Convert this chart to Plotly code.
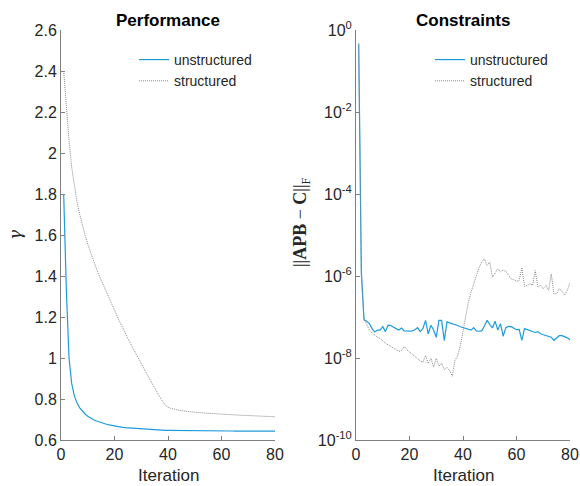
import plotly.graph_objects as go

iterations = list(range(1, 81))

gamma_unstructured = [
    1.80, 1.33, 1.00, 0.875, 0.815, 0.78, 0.757, 0.74, 0.727, 0.716,
    0.707, 0.700, 0.694, 0.689, 0.684, 0.680, 0.677, 0.674, 0.671, 0.668,
    0.666, 0.664, 0.662, 0.660, 0.659, 0.657, 0.656, 0.655, 0.654, 0.653,
    0.652, 0.651, 0.650, 0.650, 0.649, 0.649, 0.648, 0.648, 0.647, 0.647,
    0.647, 0.646, 0.646, 0.646, 0.646, 0.646, 0.645, 0.645, 0.645, 0.645,
    0.645, 0.645, 0.645, 0.644, 0.644, 0.644, 0.644, 0.644, 0.644, 0.644,
    0.644, 0.644, 0.644, 0.644, 0.643, 0.643, 0.643, 0.643, 0.643, 0.643,
    0.643, 0.643, 0.643, 0.643, 0.643, 0.643, 0.643, 0.643, 0.643, 0.643,
]

gamma_structured = [
    2.40, 2.21, 2.06, 1.93, 1.84, 1.76, 1.70, 1.645, 1.60, 1.555,
    1.515, 1.48, 1.445, 1.41, 1.38, 1.35, 1.32, 1.29, 1.26, 1.23,
    1.20, 1.175, 1.15, 1.12, 1.095, 1.07, 1.045, 1.02, 0.995, 0.97,
    0.947, 0.924, 0.90, 0.877, 0.854, 0.83, 0.808, 0.787, 0.77, 0.76,
    0.755, 0.751, 0.748, 0.745, 0.743, 0.741, 0.739, 0.737, 0.736, 0.735,
    0.734, 0.733, 0.732, 0.731, 0.730, 0.729, 0.728, 0.727, 0.727, 0.726,
    0.725, 0.724, 0.724, 0.723, 0.722, 0.722, 0.721, 0.720, 0.720, 0.719,
    0.719, 0.718, 0.717, 0.717, 0.716, 0.716, 0.715, 0.715, 0.714, 0.714,
]

constraint_unstructured = [
    4.7e-1, 1.26e-6, 8.5e-8, 7.9e-8, 6.9e-8, 5.2e-8, 4.3e-8, 4.8e-8, 4.8e-8, 5.8e-8,
    4.4e-8, 6.3e-8, 6.2e-8, 5.8e-8, 5.2e-8, 4.8e-8, 5.4e-8, 4.6e-8, 4.5e-8, 4.5e-8,
    4.6e-8, 4.9e-8, 5.5e-8, 4.4e-8, 5.2e-8, 8.3e-8, 3.9e-8, 6.3e-8, 4.8e-8, 3.2e-8,
    8.3e-8, 8.3e-8, 2.7e-8, 7.6e-8, 7.2e-8, 6.9e-8, 6.5e-8, 6.2e-8, 5.8e-8, 5.5e-8,
    5.4e-8, 5.1e-8, 4.8e-8, 5.5e-8, 4.6e-8, 4.5e-8, 4.6e-8, 6.0e-8, 8.3e-8, 6.6e-8,
    5.4e-8, 7.9e-8, 4.8e-8, 6.9e-8, 3.4e-8, 5.5e-8, 5.9e-8, 5.8e-8, 5.4e-8, 4.9e-8,
    5.0e-8, 2.7e-8, 5.2e-8, 4.9e-8, 4.6e-8, 4.4e-8, 4.2e-8, 4.4e-8, 3.9e-8, 3.7e-8,
    3.5e-8, 3.4e-8, 3.2e-8, 2.7e-8, 3.0e-8, 3.5e-8, 3.5e-8, 3.3e-8, 3.1e-8, 2.8e-8,
]

constraint_structured = [
    4.5e-1, 1.0e-6, 8.9e-8, 6.3e-8, 4.8e-8, 4.1e-8, 3.6e-8, 3.2e-8, 3.0e-8, 2.6e-8,
    2.3e-8, 2.1e-8, 1.9e-8, 1.7e-8, 1.6e-8, 1.45e-8, 1.5e-8, 1.9e-8, 1.6e-8, 1.4e-8,
    1.23e-8, 1.1e-8, 9.8e-9, 8.5e-9, 7.9e-9, 1.15e-8, 7.4e-9, 9.8e-9, 6.0e-9, 9.8e-9,
    6.3e-9, 7.4e-9, 5.2e-9, 5.9e-9, 5.0e-9, 3.6e-9, 8.9e-9, 1.12e-8, 2.0e-8, 4.8e-8,
    9.1e-8, 2.3e-7, 4.0e-7, 6.5e-7, 1.02e-6, 1.6e-6, 2.2e-6, 2.6e-6, 1.8e-6, 2.2e-6,
    9.3e-7, 1.17e-6, 1.5e-6, 1.26e-6, 1.4e-6, 1.3e-6, 1.02e-6, 8.5e-7, 8.1e-7, 7.4e-7,
    7.8e-7, 1.6e-6, 5.6e-7, 5.9e-7, 6.5e-7, 5.9e-7, 1.35e-6, 5.4e-7, 5.9e-7, 4.9e-7,
    5.9e-7, 4.5e-7, 1.12e-6, 3.7e-7, 3.7e-7, 4.9e-7, 4.3e-7, 3.4e-7, 4.5e-7, 6.8e-7,
]

x_ticks = [0, 20, 40, 60, 80]
gamma_ticks = [0.6, 0.8, 1.0, 1.2, 1.4, 1.6, 1.8, 2.0, 2.2, 2.4, 2.6]
gamma_ticktext = ["0.6", "0.8", "1", "1.2", "1.4", "1.6", "1.8", "2", "2.2", "2.4", "2.6"]
log_ticks = [1e-10, 1e-8, 1e-6, 1e-4, 1e-2, 1e0]
log_ticktext = ["10<sup>-10</sup>", "10<sup>-8</sup>", "10<sup>-6</sup>",
                "10<sup>-4</sup>", "10<sup>-2</sup>", "10<sup>0</sup>"]

BLUE = "#1e9bdc"
GREY = "#8a8a8a"
AXIS = "#808080"
TEXT = "#262626"
FONT = "Liberation Sans, Arial, sans-serif"
W, H = 580, 486

fig = go.Figure()
fig.add_trace(go.Scatter(x=iterations, y=gamma_unstructured, mode="lines", name="unstructured",
                         line=dict(color=BLUE, width=1.2), xaxis="x", yaxis="y", legend="legend"))
fig.add_trace(go.Scatter(x=iterations, y=gamma_structured, mode="lines", name="structured",
                         line=dict(color=GREY, width=1, dash="1px,1px"), xaxis="x", yaxis="y",
                         legend="legend"))
fig.add_trace(go.Scatter(x=iterations, y=constraint_unstructured, mode="lines", name="unstructured",
                         line=dict(color=BLUE, width=1.2), xaxis="x2", yaxis="y2", legend="legend2"))
fig.add_trace(go.Scatter(x=iterations, y=constraint_structured, mode="lines", name="structured",
                         line=dict(color=GREY, width=1, dash="1px,1px"), xaxis="x2", yaxis="y2",
                         legend="legend2"))

ax_common = dict(showline=True, linecolor=AXIS, linewidth=1, mirror=False, ticks="inside",
                 tickcolor=AXIS, ticklen=4, showgrid=False, zeroline=False, automargin=False,
                 tickfont=dict(family=FONT, size=16, color=TEXT))

legend_common = dict(xanchor="left", yanchor="top", bgcolor="rgba(0,0,0,0)", borderwidth=0,
                     font=dict(family=FONT, size=14, color=TEXT), tracegroupgap=0, itemwidth=30)


def px_x(p):
    return p / W


def px_y(p):
    return 1 - p / H


def label(text, x, y, size, color=TEXT, family=FONT, angle=0):
    return dict(text=text, x=px_x(x), y=px_y(y), xref="paper", yref="paper",
                xanchor="center", yanchor="middle", showarrow=False, textangle=angle,
                font=dict(family=family, size=size, color=color))


ydom = [px_y(440), px_y(30)]

fig.update_layout(
    width=W, height=H,
    margin=dict(l=0, r=0, t=0, b=0),
    paper_bgcolor="white", plot_bgcolor="white",
    xaxis=dict(domain=[px_x(61), px_x(275)], range=[0, 80], tickvals=x_ticks, anchor="y", **ax_common),
    yaxis=dict(domain=ydom, range=[0.6, 2.6], tickvals=gamma_ticks, ticktext=gamma_ticktext,
               anchor="x", **ax_common),
    xaxis2=dict(domain=[px_x(356), px_x(570)], range=[0, 80], tickvals=x_ticks, anchor="y2", **ax_common),
    yaxis2=dict(domain=ydom, type="log", range=[-10, 0], tickvals=log_ticks, ticktext=log_ticktext,
                anchor="x2", **ax_common),
    legend=dict(x=px_x(134), y=px_y(44), **legend_common),
    legend2=dict(x=px_x(430), y=px_y(44), **legend_common),
    showlegend=True,
    annotations=[
        label("<b>Performance</b>", 168, 20, 17, color="black"),
        label("<b>Constraints</b>", 463, 20, 17, color="black"),
        label("Iteration", 168, 475, 17),
        label("Iteration", 463, 475, 17),
        label("<i>γ</i>", 15, 235, 17, family="DejaVu Serif, serif", angle=-90),
        label("||<b>APB</b> − <b>C</b>||<sub>F</sub>", 301, 222, 18,
              family="Liberation Serif, serif", angle=-90),
    ],
)

fig.write_html("out.html", config={"displayModeBar": False},
               post_script="document.body.style.margin='0';document.body.style.overflow='hidden';")
